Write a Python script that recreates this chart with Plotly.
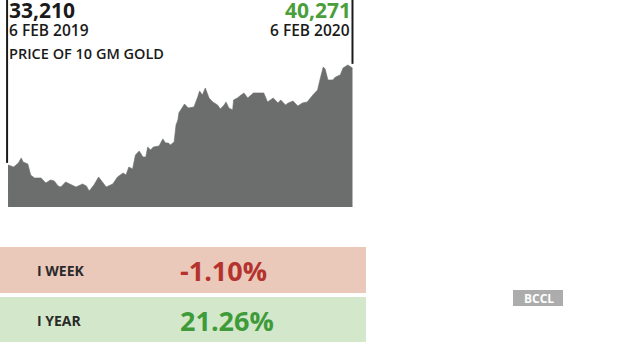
import pandas as pd
import plotly.graph_objects as go

# ---- data ----
day_offsets = [0, 6, 11, 14, 16, 19, 21, 24, 28, 35, 40, 45, 49, 53, 56, 61, 67, 72, 79, 83,
               86, 91, 96, 101, 104, 111, 116, 122, 125, 128, 132, 135, 139, 143, 146, 148, 151,
               154, 160, 164, 167, 170, 172, 176, 178, 180, 181, 183, 187, 191, 197, 201, 203,
               206, 209, 213, 217, 222, 225, 229, 231, 234, 238, 239, 243, 247, 250, 254, 260,
               268, 271, 275, 278, 281, 286, 289, 294, 297, 302, 307, 312, 317, 323, 328, 331,
               334, 336, 339, 344, 347, 352, 355, 360, 363, 365]
prices = [33210, 33064, 33356, 33720, 33428, 33356, 33283, 32482, 32264, 32264, 31900, 32118,
          32045, 31681, 31608, 31972, 31754, 31608, 31827, 31681, 31317, 31754, 32336, 31900,
          31608, 31827, 32336, 32628, 32482, 33064, 32919, 33938, 34229, 33792, 33792, 34520,
          34302, 34520, 34593, 35103, 34812, 34812, 34666, 34884, 36122, 36486, 36996, 37214,
          37651, 37360, 37432, 38160, 38597, 38306, 38816, 38088, 37796, 37578, 37287, 37578,
          37796, 37360, 37214, 37942, 38088, 38306, 38452, 38088, 38452, 38452, 38452, 37796,
          37942, 38088, 37724, 37942, 37578, 37724, 37869, 37505, 37724, 37796, 38306, 38670,
          39544, 40344, 40199, 39398, 39398, 39616, 39762, 40272, 40490, 40344, 40271]
start_date = "2019-02-06"

start_label = ["33,210", "6 FEB 2019"]
end_label = ["40,271", "6 FEB 2020"]
title_text = "PRICE OF 10 GM GOLD"
change_labels = ["I WEEK", "I YEAR"]
change_values = ["-1.10%", "21.26%"]
badge_text = "BCCL"

dates = pd.to_datetime(start_date) + pd.to_timedelta(day_offsets, unit="D")
pad = pd.Timedelta(days=1.6)

FONT = "Open Sans"
AREA = "#6c6d6d"
RED = "#b5332f"
GREEN = "#3f9b3a"

fig = go.Figure()
fig.add_trace(go.Scatter(
    x=dates, y=prices, mode="lines", fill="tozeroy",
    line=dict(color=AREA, width=0.6), fillcolor=AREA, hoverinfo="skip",
))

W, H = 630, 350
def px(x):
    return x / W
def py(y):
    return 1 - y / H

y_lo, y_hi = 30150, 45220

shapes = [
    dict(type="line", xref="x", yref="y", x0=dates[0] - pd.Timedelta(days=1), x1=dates[0] - pd.Timedelta(days=1),
         y0=prices[0] + 150, y1=y_hi, line=dict(color="#1a1a1a", width=2)),
    dict(type="line", xref="x", yref="y", x0=dates[-1], x1=dates[-1],
         y0=prices[-1] + 300, y1=y_hi, line=dict(color="#1a1a1a", width=2)),
    dict(type="rect", xref="paper", yref="paper", x0=0, x1=px(366), y0=py(293), y1=py(247),
         fillcolor="#eac9ba", line=dict(width=0), layer="below"),
    dict(type="rect", xref="paper", yref="paper", x0=0, x1=px(366), y0=py(342), y1=py(297),
         fillcolor="#d3e8cb", line=dict(width=0), layer="below"),
    dict(type="rect", xref="paper", yref="paper", x0=px(513), x1=px(563), y0=py(306), y1=py(290),
         fillcolor="#acacac", line=dict(width=0)),
]

ann = []
def text(x, y, s, size, color="#1a1a1a", weight="normal", xanchor="left", yanchor="middle"):
    ann.append(dict(xref="paper", yref="paper", x=px(x), y=py(y), text=s,
                    showarrow=False, xanchor=xanchor, yanchor=yanchor, borderpad=0,
                    font=dict(family=FONT, size=size, color=color, weight=weight)))

text(8, 10, start_label[0], 21, weight="bold")
text(8, 30, start_label[1], 15.5, weight=600)
text(8, 53, title_text, 14.5, weight=600)
text(352, 10, end_label[0], 21, color="#4a9e3c", weight="bold", xanchor="right")
text(351, 30, end_label[1], 15.5, weight=600, xanchor="right")

text(36, 270, change_labels[0], 14, weight="bold", color="#2a2a2a")
text(36, 320, change_labels[1], 14, weight="bold", color="#2a2a2a")
text(179, 270, change_values[0], 27, color=RED, weight="bold")
text(179, 320, change_values[1], 27, color=GREEN, weight="bold")

text(539, 298, badge_text, 12, color="white", weight="bold", xanchor="center")

fig.update_layout(
    width=W, height=H, margin=dict(l=0, r=0, t=0, b=0),
    paper_bgcolor="white", plot_bgcolor="white", showlegend=False,
    xaxis=dict(domain=[px(5), px(354)], range=[dates[0] - 2 * pad, dates[-1] + pad],
               visible=False, fixedrange=True),
    yaxis=dict(domain=[py(207), 1], range=[y_lo, y_hi], visible=False, fixedrange=True),
    shapes=shapes, annotations=ann,
)

fig.write_html("out.html")
